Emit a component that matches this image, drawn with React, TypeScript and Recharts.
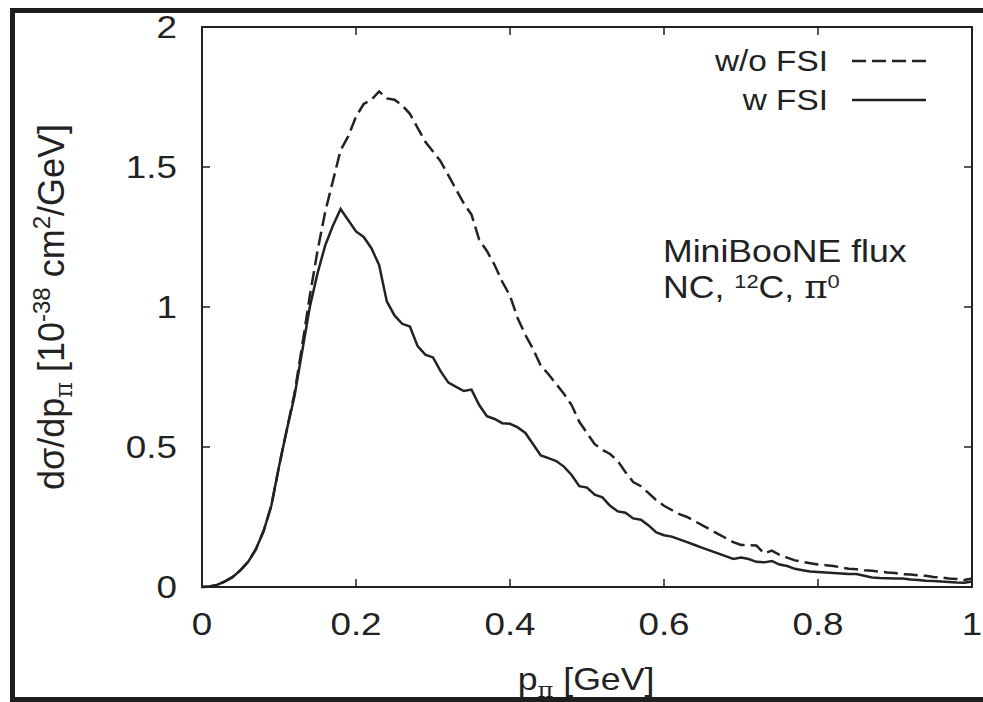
import { Customized, Line, LineChart, ReferenceArea, XAxis, YAxis } from "recharts"

// pion momentum grid [GeV]
const momentum = [
  0, 0.01, 0.02, 0.03, 0.04, 0.05, 0.06, 0.07, 0.08, 0.09,
  0.1, 0.11, 0.12, 0.13, 0.14, 0.15, 0.16, 0.17, 0.18, 0.19,
  0.2, 0.21, 0.22, 0.23, 0.24, 0.25, 0.26, 0.27, 0.28, 0.29,
  0.3, 0.31, 0.32, 0.33, 0.34, 0.35, 0.36, 0.37, 0.38, 0.39,
  0.4, 0.41, 0.42, 0.43, 0.44, 0.45, 0.46, 0.47, 0.48, 0.49,
  0.5, 0.51, 0.52, 0.53, 0.54, 0.55, 0.56, 0.57, 0.58, 0.59,
  0.6, 0.61, 0.62, 0.63, 0.64, 0.65, 0.66, 0.67, 0.68, 0.69,
  0.7, 0.71, 0.72, 0.73, 0.74, 0.75, 0.76, 0.77, 0.78, 0.79,
  0.8, 0.81, 0.82, 0.83, 0.84, 0.85, 0.86, 0.87, 0.88, 0.89,
  0.9, 0.91, 0.92, 0.93, 0.94, 0.95, 0.96, 0.97, 0.98, 0.99,
  1,
]

// dsigma/dp, w FSI (solid)
const withFsi = [
  0, 0.002, 0.008, 0.02, 0.036, 0.06, 0.09, 0.135, 0.2, 0.29,
  0.43, 0.56, 0.68, 0.84, 1.0, 1.12, 1.22, 1.29, 1.35, 1.31,
  1.27, 1.25, 1.21, 1.15, 1.02, 0.97, 0.94, 0.93, 0.86, 0.83,
  0.82, 0.77, 0.73, 0.715, 0.7, 0.705, 0.65, 0.61, 0.6, 0.585,
  0.583, 0.57, 0.55, 0.51, 0.47, 0.46, 0.45, 0.43, 0.4, 0.36,
  0.355, 0.33, 0.32, 0.29, 0.27, 0.265, 0.245, 0.24, 0.22, 0.195,
  0.185, 0.18, 0.17, 0.16, 0.15, 0.14, 0.13, 0.12, 0.11, 0.1,
  0.105, 0.1, 0.09, 0.088, 0.093, 0.08, 0.075, 0.065, 0.06, 0.055,
  0.054, 0.052, 0.05, 0.048, 0.046, 0.046, 0.04, 0.034, 0.032, 0.031,
  0.03, 0.03, 0.027, 0.025, 0.022, 0.021, 0.02, 0.018, 0.016, 0.015,
  0.02,
]

// dsigma/dp, w/o FSI (dashed)
const withoutFsi = [
  0, 0.002, 0.008, 0.02, 0.036, 0.06, 0.09, 0.135, 0.2, 0.29,
  0.43, 0.56, 0.69, 0.86, 1.04, 1.2, 1.34, 1.45, 1.56, 1.61,
  1.68, 1.725, 1.74, 1.77, 1.745, 1.74, 1.72, 1.69, 1.64, 1.59,
  1.555, 1.52, 1.47, 1.42, 1.37, 1.33, 1.24, 1.2, 1.15, 1.09,
  1.04, 0.96, 0.9, 0.85, 0.79, 0.76, 0.725, 0.69, 0.65, 0.59,
  0.55, 0.51, 0.49, 0.475, 0.45, 0.41, 0.375, 0.36, 0.335, 0.31,
  0.29, 0.275, 0.26, 0.25, 0.235, 0.22, 0.205, 0.19, 0.175, 0.16,
  0.15, 0.15, 0.148, 0.12, 0.13, 0.115, 0.105, 0.095, 0.09, 0.085,
  0.08, 0.078, 0.075, 0.07, 0.065, 0.063, 0.06, 0.058, 0.055, 0.052,
  0.05, 0.046, 0.045, 0.042, 0.04, 0.036, 0.034, 0.03, 0.029, 0.025,
  0.03,
]

const xTicks = [0, 0.2, 0.4, 0.6, 0.8, 1]
const yTicks = [0, 0.5, 1, 1.5, 2]

const data = momentum.map((p, i) => ({ p, wo: withoutFsi[i], w: withFsi[i] }))

const INK = "#222"
const FONT = "'Liberation Sans', Arial, Helvetica, sans-serif"
const SERIF = "'DejaVu Serif', 'Liberation Serif', serif"
const STRETCH = 1.15
const TICK_LEN = 8

// chart box
const W = 983
const H = 702
const MARGIN = { top: 27, right: 11, bottom: 0, left: 0 }
const X_AXIS_H = 115
const Y_AXIS_W = 202
const PLOT_W = W - MARGIN.left - MARGIN.right - Y_AXIS_W
const PLOT_H = H - MARGIN.top - MARGIN.bottom - X_AXIS_H

// bottom tick label plus inward ticks on the bottom and mirrored top edge
function BottomTick({ x, y, payload }: any) {
  return (
    <g>
      <line x1={x} x2={x} y1={y} y2={y - TICK_LEN} stroke={INK} strokeWidth={1.5} />
      <line x1={x} x2={x} y1={y - PLOT_H} y2={y - PLOT_H + TICK_LEN} stroke={INK} strokeWidth={1.5} />
      <text
        transform={`translate(${x},${y + 48}) scale(${STRETCH},1)`}
        textAnchor="middle"
        fontFamily={FONT}
        fontSize={32}
        fill={INK}
      >
        {String(payload.value)}
      </text>
    </g>
  )
}

function LeftTick({ x, y, payload }: any) {
  return (
    <g>
      <line x1={x} x2={x + TICK_LEN} y1={y} y2={y} stroke={INK} strokeWidth={1.5} />
      <line x1={x + PLOT_W} x2={x + PLOT_W - TICK_LEN} y1={y} y2={y} stroke={INK} strokeWidth={1.5} />
      <text
        transform={`translate(${x - 25},${y + 11}) scale(${STRETCH},1)`}
        textAnchor="end"
        fontFamily={FONT}
        fontSize={32}
        fill={INK}
      >
        {String(payload.value)}
      </text>
    </g>
  )
}

function Annotations() {
  return (
    <g fill={INK} fontFamily={FONT}>
      {/* legend */}
      <text transform={`translate(828,71) scale(${STRETCH},1)`} textAnchor="end" fontSize={29}>
        w/o FSI
      </text>
      <line x1={852} x2={926} y1={61} y2={61} stroke={INK} strokeWidth={2.5} strokeDasharray="14 6" />
      <text transform={`translate(828,110) scale(${STRETCH},1)`} textAnchor="end" fontSize={29}>
        w FSI
      </text>
      <line x1={852} x2={926} y1={100} y2={100} stroke={INK} strokeWidth={2.5} />

      <text transform={`translate(663,262) scale(${STRETCH},1)`} fontSize={31}>
        MiniBooNE flux
      </text>
      <text transform={`translate(663,298) scale(${STRETCH},1)`} fontSize={31}>
        <tspan>NC, </tspan>
        <tspan fontSize={19} dy={-10}>12</tspan>
        <tspan dy={10}>C, </tspan>
        <tspan fontFamily={SERIF}>π</tspan>
        <tspan fontSize={19} dy={-10}>0</tspan>
      </text>

      <text transform={`translate(586,690) scale(${STRETCH},1)`} fontSize={31} textAnchor="middle">
        <tspan>p</tspan>
        <tspan fontSize={21} dy={7} fontFamily={SERIF}>π</tspan>
        <tspan dy={-7}> [GeV]</tspan>
      </text>
      <text transform="translate(64,307) rotate(-90)" fontSize={36} textAnchor="middle">
        <tspan>dσ/dp</tspan>
        <tspan fontSize={24} dy={8} fontFamily={SERIF}>π</tspan>
        <tspan dy={-8}> [10</tspan>
        <tspan fontSize={24} dy={-14}>-38</tspan>
        <tspan dy={14}> cm</tspan>
        <tspan fontSize={24} dy={-14}>2</tspan>
        <tspan dy={14}>/GeV]</tspan>
      </text>
    </g>
  )
}

export default function App() {
  return (
    <div style={{ position: "absolute", left: 0, top: 0, width: W, height: H, overflow: "hidden", background: "#fff" }}>
      <LineChart width={W} height={H} data={data} margin={MARGIN}>
        <XAxis
          dataKey="p"
          type="number"
          domain={[0, 1]}
          ticks={xTicks}
          height={X_AXIS_H}
          tickSize={0}
          tickMargin={0}
          stroke={INK}
          strokeWidth={2}
          tick={<BottomTick />}
          interval={0}
        />
        <YAxis
          type="number"
          domain={[0, 2]}
          ticks={yTicks}
          width={Y_AXIS_W}
          tickSize={0}
          tickMargin={0}
          stroke={INK}
          strokeWidth={2}
          tick={<LeftTick />}
          interval={0}
        />
        <ReferenceArea x1={0} x2={1} y1={0} y2={2} fill="none" stroke={INK} strokeWidth={2} ifOverflow="visible" />
        <Line
          dataKey="wo"
          name="w/o FSI"
          type="linear"
          stroke={INK}
          strokeWidth={2.5}
          strokeDasharray="14 6"
          dot={false}
          isAnimationActive={false}
        />
        <Line
          dataKey="w"
          name="w FSI"
          type="linear"
          stroke={INK}
          strokeWidth={2.5}
          dot={false}
          isAnimationActive={false}
        />
        <Customized component={<Annotations />} />
      </LineChart>
      <div
        style={{
          position: "absolute",
          left: 10,
          top: 8,
          width: 1000,
          height: 694,
          border: "5px solid #1e1e1e",
          boxSizing: "border-box",
          pointerEvents: "none",
        }}
      />
    </div>
  )
}
